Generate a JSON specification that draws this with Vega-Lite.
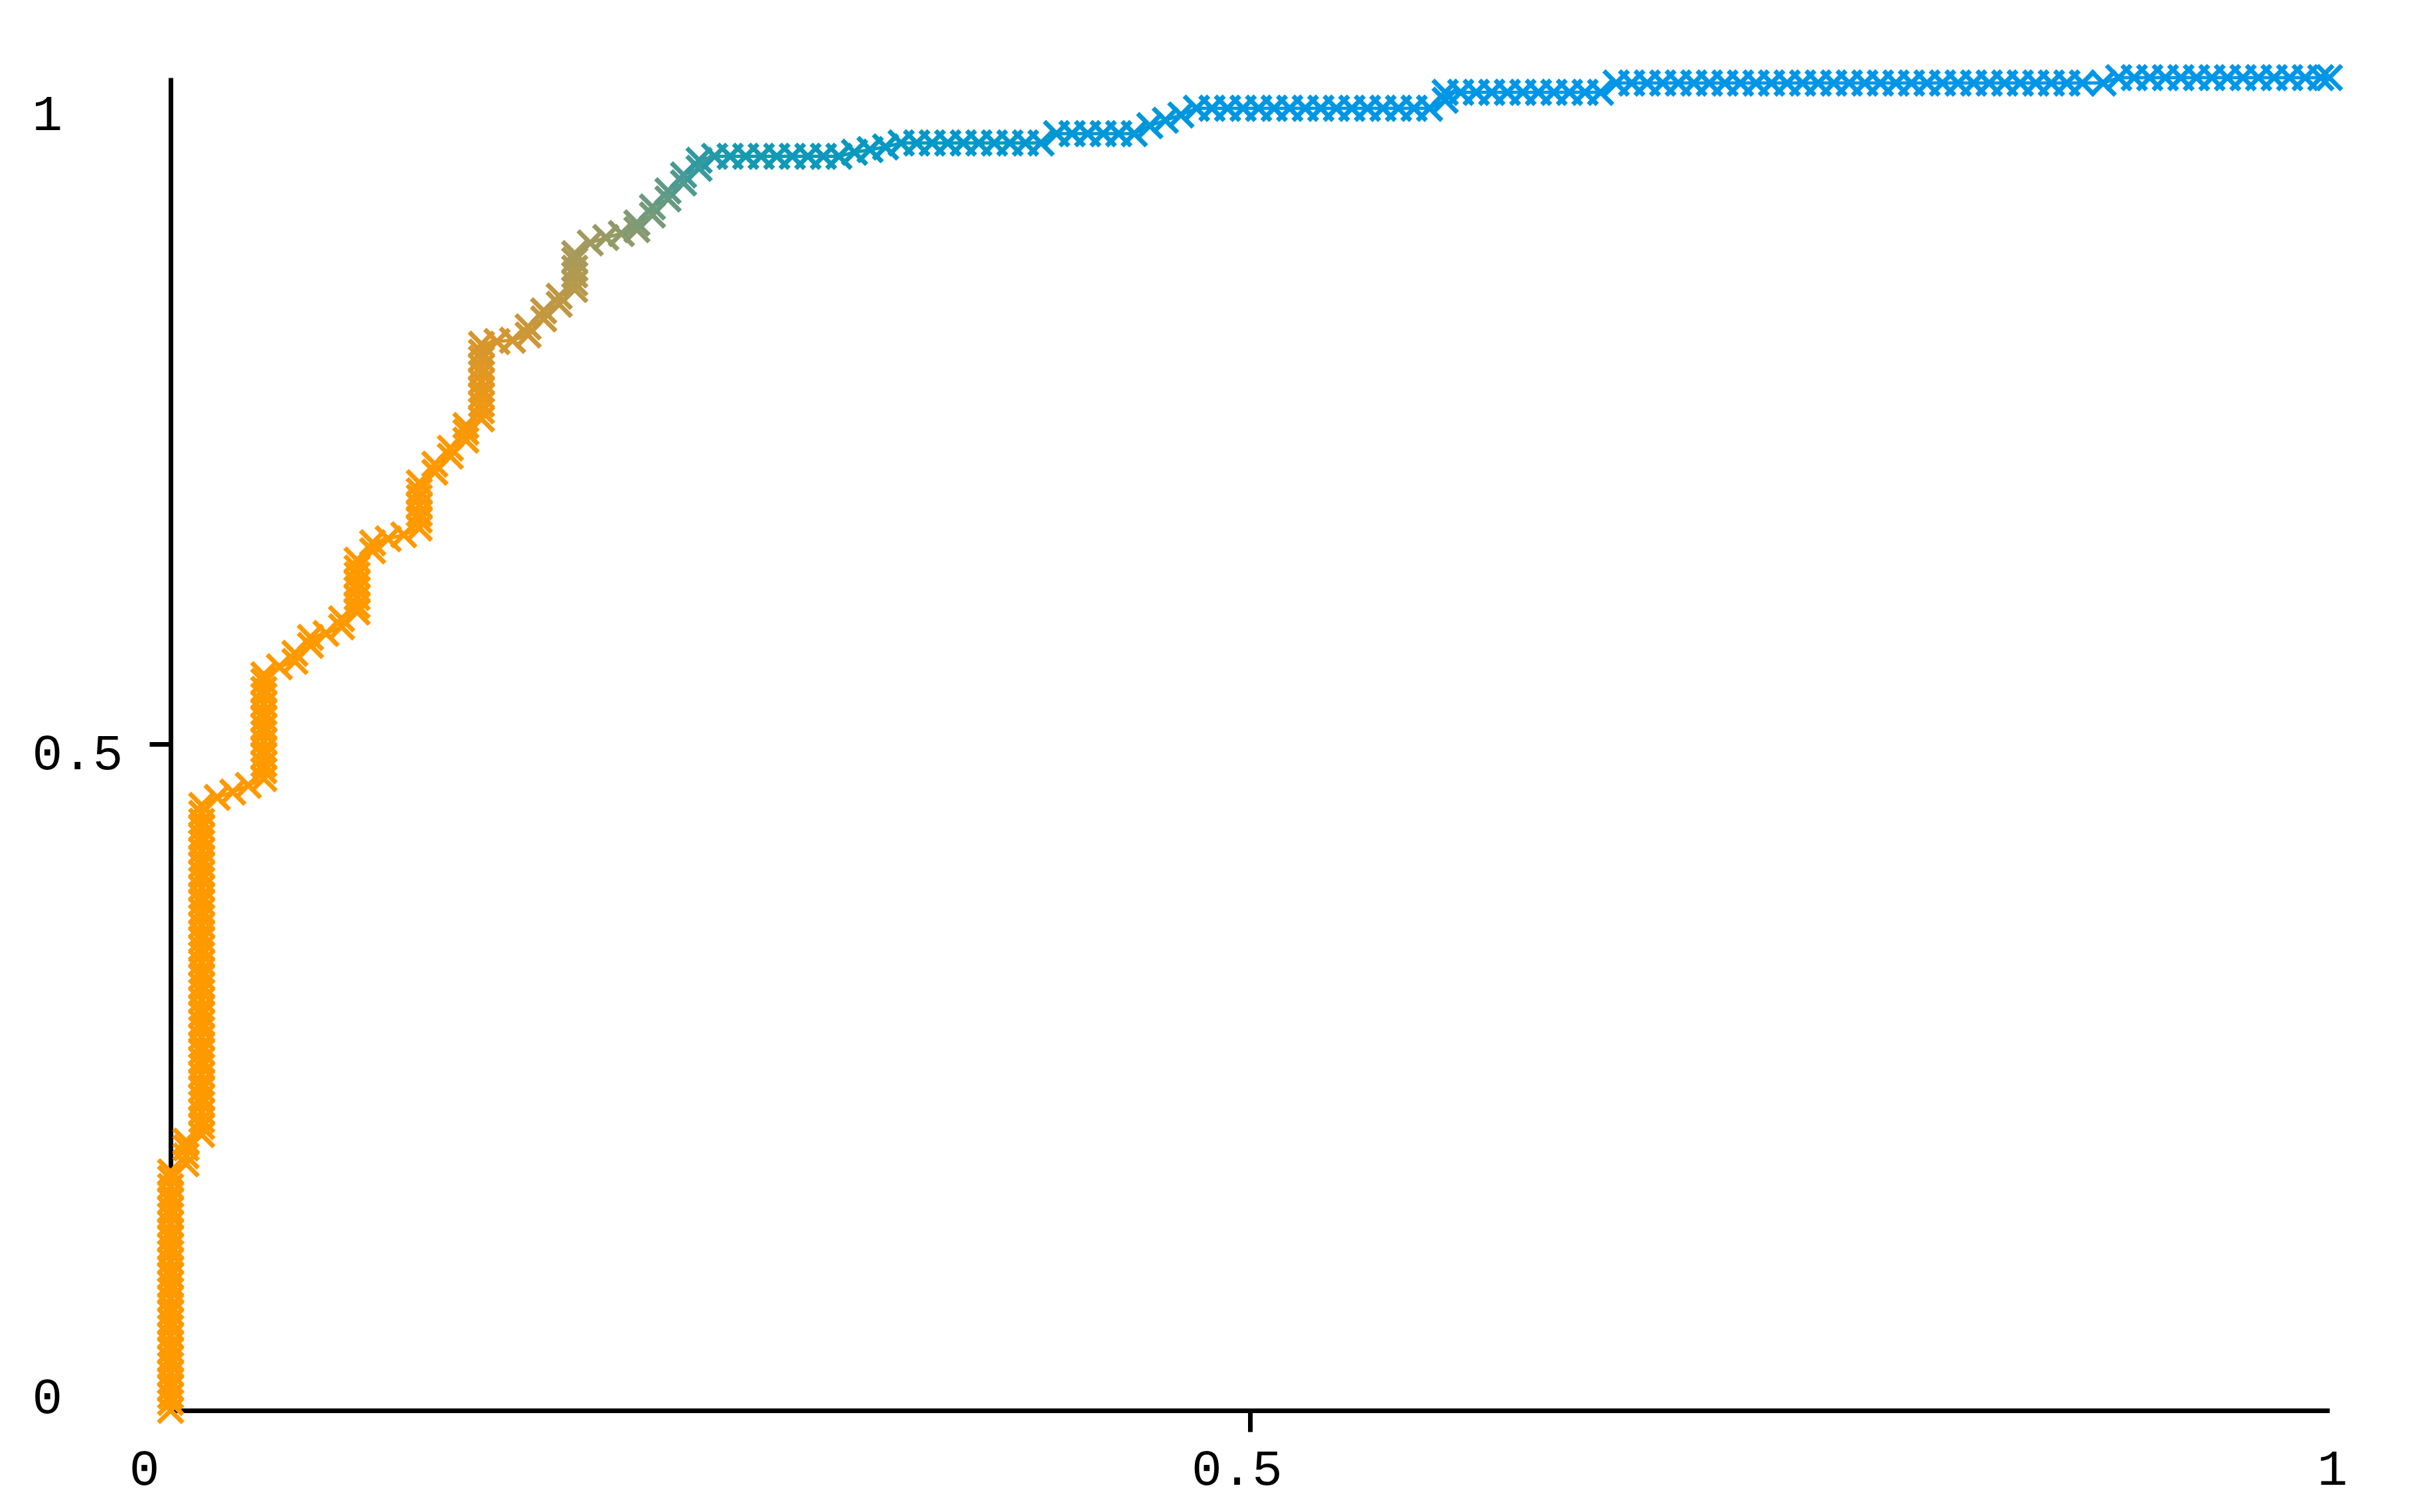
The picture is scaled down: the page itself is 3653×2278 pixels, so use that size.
{
"$schema": "https://vega.github.io/schema/vega-lite/v6.json",
"autosize": {"type": "none"},
"padding": {"left": 257, "top": 117, "right": 144, "bottom": 153},
"width": 3252,
"height": 2008,
"background": "white",
"config": {"view": {"stroke": null}},
"data": {"values": [
{"x":0,"y":0},{"x":0,"y":0.006},{"x":0,"y":0.011},{"x":0,"y":0.017},{"x":0,"y":0.022},{"x":0,"y":0.028},{"x":0,"y":0.034},{"x":0,"y":0.039},{"x":0,"y":0.045},{"x":0,"y":0.05},{"x":0,"y":0.056},{"x":0,"y":0.062},{"x":0,"y":0.067},{"x":0,"y":0.073},{"x":0,"y":0.078},{"x":0,"y":0.084},{"x":0,"y":0.09},{"x":0,"y":0.095},{"x":0,"y":0.101},{"x":0,"y":0.106},{"x":0,"y":0.112},{"x":0,"y":0.118},{"x":0,"y":0.123},{"x":0,"y":0.129},{"x":0,"y":0.134},{"x":0,"y":0.14},{"x":0,"y":0.146},{"x":0,"y":0.151},{"x":0,"y":0.157},{"x":0,"y":0.162},{"x":0,"y":0.168},{"x":0,"y":0.174},
{"x":0,"y":0.179},{"x":0.0072,"y":0.185},{"x":0.0072,"y":0.191},{"x":0.0072,"y":0.197},{"x":0.0072,"y":0.202},
{"x":0.0144,"y":0.207},{"x":0.0144,"y":0.213},{"x":0.0144,"y":0.218},{"x":0.0144,"y":0.224},{"x":0.0144,"y":0.23},{"x":0.0144,"y":0.235},{"x":0.0144,"y":0.241},{"x":0.0144,"y":0.246},{"x":0.0144,"y":0.252},{"x":0.0144,"y":0.258},{"x":0.0144,"y":0.263},{"x":0.0144,"y":0.269},{"x":0.0144,"y":0.274},{"x":0.0144,"y":0.28},{"x":0.0144,"y":0.286},{"x":0.0144,"y":0.291},{"x":0.0144,"y":0.297},{"x":0.0144,"y":0.302},{"x":0.0144,"y":0.308},{"x":0.0144,"y":0.314},{"x":0.0144,"y":0.319},{"x":0.0144,"y":0.325},{"x":0.0144,"y":0.33},{"x":0.0144,"y":0.336},{"x":0.0144,"y":0.342},{"x":0.0144,"y":0.347},{"x":0.0144,"y":0.353},{"x":0.0144,"y":0.358},{"x":0.0144,"y":0.364},{"x":0.0144,"y":0.37},{"x":0.0144,"y":0.375},{"x":0.0144,"y":0.381},{"x":0.0144,"y":0.386},{"x":0.0144,"y":0.392},{"x":0.0144,"y":0.398},{"x":0.0144,"y":0.403},{"x":0.0144,"y":0.409},{"x":0.0144,"y":0.414},{"x":0.0144,"y":0.42},{"x":0.0144,"y":0.426},{"x":0.0144,"y":0.431},{"x":0.0144,"y":0.437},{"x":0.0144,"y":0.442},{"x":0.0144,"y":0.448},{"x":0.0144,"y":0.454},
{"x":0.0216,"y":0.46},{"x":0.0288,"y":0.464},{"x":0.036,"y":0.469},
{"x":0.0432,"y":0.474},{"x":0.0432,"y":0.48},{"x":0.0432,"y":0.485},{"x":0.0432,"y":0.491},{"x":0.0432,"y":0.496},{"x":0.0432,"y":0.502},{"x":0.0432,"y":0.508},{"x":0.0432,"y":0.513},{"x":0.0432,"y":0.519},{"x":0.0432,"y":0.524},{"x":0.0432,"y":0.53},{"x":0.0432,"y":0.536},{"x":0.0432,"y":0.541},{"x":0.0432,"y":0.547},{"x":0.0432,"y":0.552},
{"x":0.0504,"y":0.558},{"x":0.0576,"y":0.562},{"x":0.0576,"y":0.568},{"x":0.0648,"y":0.574},{"x":0.0648,"y":0.58},{"x":0.072,"y":0.583},{"x":0.0792,"y":0.588},{"x":0.0792,"y":0.594},
{"x":0.0864,"y":0.599},{"x":0.0864,"y":0.604},{"x":0.0864,"y":0.61},{"x":0.0864,"y":0.616},{"x":0.0864,"y":0.621},{"x":0.0864,"y":0.627},{"x":0.0864,"y":0.632},{"x":0.0864,"y":0.638},
{"x":0.0936,"y":0.645},{"x":0.0936,"y":0.651},{"x":0.1008,"y":0.654},{"x":0.108,"y":0.657},
{"x":0.1152,"y":0.662},{"x":0.1152,"y":0.668},{"x":0.1152,"y":0.673},{"x":0.1152,"y":0.679},{"x":0.1152,"y":0.685},{"x":0.1152,"y":0.69},{"x":0.1152,"y":0.696},
{"x":0.1224,"y":0.704},{"x":0.1224,"y":0.71},{"x":0.1296,"y":0.716},{"x":0.1296,"y":0.722},{"x":0.1368,"y":0.728},{"x":0.1368,"y":0.734},{"x":0.1368,"y":0.739},
{"x":0.144,"y":0.744},{"x":0.144,"y":0.75},{"x":0.144,"y":0.755},{"x":0.144,"y":0.761},{"x":0.144,"y":0.766},{"x":0.144,"y":0.772},{"x":0.144,"y":0.778},{"x":0.144,"y":0.783},{"x":0.144,"y":0.789},{"x":0.144,"y":0.794},{"x":0.144,"y":0.8},
{"x":0.1512,"y":0.802},{"x":0.1584,"y":0.803},{"x":0.1656,"y":0.807},{"x":0.1656,"y":0.813},{"x":0.1728,"y":0.819},{"x":0.1728,"y":0.825},{"x":0.18,"y":0.83},{"x":0.18,"y":0.836},
{"x":0.1872,"y":0.841},{"x":0.1872,"y":0.846},{"x":0.1872,"y":0.852},{"x":0.1872,"y":0.857},{"x":0.1872,"y":0.863},{"x":0.1872,"y":0.868},
{"x":0.1944,"y":0.876},{"x":0.2016,"y":0.88},{"x":0.2088,"y":0.883},{"x":0.216,"y":0.886},{"x":0.216,"y":0.891},
{"x":0.2232,"y":0.897},{"x":0.2232,"y":0.903},{"x":0.2304,"y":0.909},{"x":0.2304,"y":0.915},{"x":0.2376,"y":0.921},{"x":0.2376,"y":0.927},{"x":0.2448,"y":0.932},{"x":0.2448,"y":0.938},{"x":0.252,"y":0.941},
{"x":0.2592,"y":0.941},{"x":0.2664,"y":0.941},{"x":0.2736,"y":0.941},{"x":0.2808,"y":0.941},{"x":0.288,"y":0.941},{"x":0.2952,"y":0.941},{"x":0.3024,"y":0.941},{"x":0.3096,"y":0.941},
{"x":0.3168,"y":0.944},{"x":0.324,"y":0.946},{"x":0.3312,"y":0.948},{"x":0.3384,"y":0.951},
{"x":0.3456,"y":0.951},{"x":0.3528,"y":0.951},{"x":0.36,"y":0.951},{"x":0.3672,"y":0.951},{"x":0.3744,"y":0.951},{"x":0.3816,"y":0.951},{"x":0.3888,"y":0.951},{"x":0.396,"y":0.951},{"x":0.4032,"y":0.951},
{"x":0.4104,"y":0.958},{"x":0.4176,"y":0.958},{"x":0.4248,"y":0.958},{"x":0.432,"y":0.958},{"x":0.4392,"y":0.958},{"x":0.4464,"y":0.958},
{"x":0.4536,"y":0.964},{"x":0.4608,"y":0.968},{"x":0.468,"y":0.972},{"x":0.4752,"y":0.977},
{"x":0.4824,"y":0.977},{"x":0.4896,"y":0.977},{"x":0.4968,"y":0.977},{"x":0.504,"y":0.977},{"x":0.5112,"y":0.977},{"x":0.5184,"y":0.977},{"x":0.5256,"y":0.977},{"x":0.5328,"y":0.977},{"x":0.54,"y":0.977},{"x":0.5472,"y":0.977},{"x":0.5544,"y":0.977},{"x":0.5616,"y":0.977},{"x":0.5688,"y":0.977},{"x":0.576,"y":0.977},{"x":0.5832,"y":0.977},
{"x":0.5904,"y":0.983},{"x":0.5904,"y":0.989},
{"x":0.5976,"y":0.989},{"x":0.6048,"y":0.989},{"x":0.612,"y":0.989},{"x":0.6192,"y":0.989},{"x":0.6264,"y":0.989},{"x":0.6336,"y":0.989},{"x":0.6408,"y":0.989},{"x":0.648,"y":0.989},{"x":0.6552,"y":0.989},{"x":0.6624,"y":0.989},
{"x":0.6696,"y":0.996},{"x":0.6768,"y":0.996},{"x":0.684,"y":0.996},{"x":0.6912,"y":0.996},{"x":0.6984,"y":0.996},{"x":0.7056,"y":0.996},{"x":0.7128,"y":0.996},{"x":0.72,"y":0.996},{"x":0.7272,"y":0.996},{"x":0.7344,"y":0.996},{"x":0.7416,"y":0.996},{"x":0.7488,"y":0.996},{"x":0.756,"y":0.996},{"x":0.7632,"y":0.996},{"x":0.7704,"y":0.996},{"x":0.7776,"y":0.996},{"x":0.7848,"y":0.996},{"x":0.792,"y":0.996},{"x":0.7992,"y":0.996},{"x":0.8064,"y":0.996},{"x":0.8136,"y":0.996},{"x":0.8208,"y":0.996},{"x":0.828,"y":0.996},{"x":0.8352,"y":0.996},{"x":0.8424,"y":0.996},{"x":0.8496,"y":0.996},{"x":0.8568,"y":0.996},{"x":0.864,"y":0.996},{"x":0.8712,"y":0.996},{"x":0.8784,"y":0.996},{"x":0.8856,"y":0.996},{"x":0.8952,"y":0.996},
{"x":0.9024,"y":1},{"x":0.9096,"y":1},{"x":0.9168,"y":1},{"x":0.924,"y":1},{"x":0.9312,"y":1},{"x":0.9384,"y":1},{"x":0.9456,"y":1},{"x":0.9528,"y":1},{"x":0.96,"y":1},{"x":0.9672,"y":1},{"x":0.9744,"y":1},{"x":0.9816,"y":1},{"x":0.9888,"y":1},{"x":0.996,"y":1},{"x":1,"y":1}
]},
"transform": [
  {"window": [{"op": "row_number", "as": "i"}]},
  {"window": [{"op": "lead", "field": "x", "as": "x2"}, {"op": "lead", "field": "y", "as": "y2"}], "sort": [{"field": "i"}], "frame": [null, null]}
],
"encoding": {
  "x": {"field": "x", "type": "quantitative", "scale": {"domain": [0, 1], "nice": false, "zero": false},
    "axis": {"values": [0, 0.5, 1], "format": "~g", "title": null, "grid": false,
      "domainColor": "black", "domainWidth": 7, "tickColor": "black", "tickWidth": 7, "tickSize": 32,
      "tickOpacity": {"condition": {"test": "datum.value == 0.5", "value": 1}, "value": 0},
      "labelFont": "Liberation Mono", "labelFontSize": 76, "labelColor": "black", "labelPadding": 56,
      "labelBaseline": "middle", "labelAlign": "center", "labelFlush": false, "labelOverlap": false, "labelBound": false,
      "labelOffset": {"condition": [{"test": "datum.value == 0", "value": -40}, {"test": "datum.value == 0.5", "value": -20}], "value": 4}}},
  "y": {"field": "y", "type": "quantitative", "scale": {"domain": [0, 1], "nice": false, "zero": false},
    "axis": {"values": [0, 0.5, 1], "format": "~g", "title": null, "grid": false,
      "domainColor": "black", "domainWidth": 7, "tickColor": "black", "tickWidth": 7, "tickSize": 32,
      "tickOpacity": {"condition": {"test": "datum.value == 0.5", "value": 1}, "value": 0},
      "labelFont": "Liberation Mono", "labelFontSize": 76, "labelColor": "black", "labelPadding": 177,
      "labelBaseline": "middle", "labelAlign": "left", "labelFlush": false, "labelOverlap": false, "labelBound": false,
      "labelOffset": {"condition": [{"test": "datum.value == 1", "value": 55}, {"test": "datum.value == 0.5", "value": 14}], "value": -20}}},
  "color": {"field": "i", "type": "quantitative", "legend": null,
    "scale": {"domain": [131, 145, 159, 168, 174, 186, 206, 232], "range": ["#FF9900", "#D8962C", "#A89A5A", "#5E9A88", "#189AAE", "#0098C8", "#0096E2", "#0096E8"], "interpolate": "rgb", "clamp": true}}
},
"layer": [
  {"transform": [{"filter": "datum.x2 != null"}], "mark": {"type": "rule", "strokeWidth": 5}, "encoding": {"x2": {"field": "x2"}, "y2": {"field": "y2"}}},
  {"mark": {"type": "point", "shape": "M-1,-1L1,1M1,-1L-1,1", "filled": false, "size": 1350, "strokeWidth": 7, "opacity": 1, "strokeCap": "butt"}}
]
}
